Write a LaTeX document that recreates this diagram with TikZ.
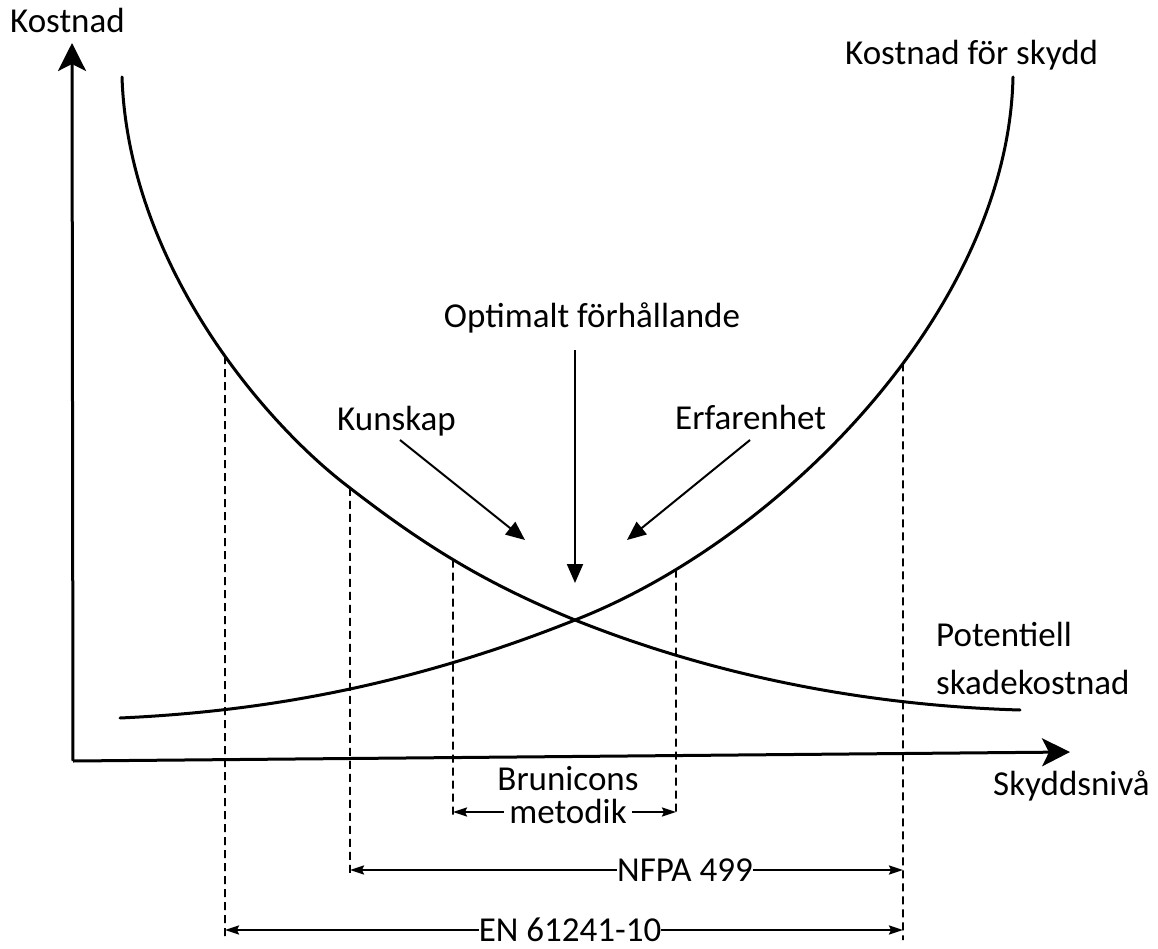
\documentclass[tikz,border=0pt]{standalone}
\usepackage{fontspec}
\setmainfont{Carlito}
\usetikzlibrary{arrows.meta,intersections}
\begin{document}
\begin{tikzpicture}[x=1pt,y=-1pt,
  lbl/.style={font=\fontsize{35}{42}\selectfont, inner sep=0pt},
  axis/.style={line width=3pt, -{Stealth[length=28pt,width=28pt,inset=7pt]}},
  curve/.style={line width=3pt, line cap=round},
  pointer/.style={line width=2pt, -{Stealth[length=19pt,width=16pt,inset=0pt]}},
  guide/.style={line width=1.7pt, dash pattern=on 8pt off 5pt},
  dimarrow/.style={line width=2.2pt, -{Stealth[length=14pt,width=9pt,inset=2pt]}}]
\useasboundingbox (0,0) rectangle (1158,949);

% axes
\coordinate (origin) at (73,761);
\coordinate (ytip) at (72,43);
\coordinate (xtip) at (1070,752);
\draw[axis] (origin) -- (ytip);
\draw[axis] (origin) -- (xtip);

% potential damage cost (falling)
\draw[curve, name path=fall] (122,77)
  .. controls (128,260) and (260,420) .. (350,488)
  .. controls (430,550) and (490,585) .. (575,620)
  .. controls (700,670) and (850,705) .. (1020,710);
% protection cost (rising)
\draw[curve, name path=rise] (120,718)
  .. controls (250,712) and (400,690) .. (575,620)
  .. controls (780,540) and (1008,310) .. (1013,77);

% vertical guide lines, starting on the curves
\path[name path=v1] (225,0) -- (225,949);
\path[name path=v2] (350,0) -- (350,949);
\path[name path=v3] (453,0) -- (453,949);
\path[name path=v4] (676,0) -- (676,949);
\path[name path=v5] (903,0) -- (903,949);
\path[name intersections={of=fall and v1, by=g1t}];
\path[name intersections={of=fall and v2, by=g2t}];
\path[name intersections={of=fall and v3, by=g3t}];
\path[name intersections={of=rise and v4, by=g4t}];
\path[name intersections={of=rise and v5, by=g5t}];
\coordinate (g1b) at (225,940);
\coordinate (g2b) at (350,876);
\coordinate (g3b) at (453,815);
\coordinate (g4b) at (676,815);
\coordinate (g5b) at (903,940);
\foreach \g in {1,...,5} \draw[guide] (g\g t) -- (g\g b);

% labels
\node[lbl, anchor=base west] (ylab) at (10,33) {Kostnad};
\node[lbl, anchor=base west] (skydd) at (845,65) {Kostnad för skydd};
\node[lbl, anchor=base] (opt) at (592,327) {Optimalt förhållande};
\node[lbl, anchor=base west] (kun) at (337,430) {Kunskap};
\node[lbl, anchor=base west] (erf) at (675,429) {Erfarenhet};
\node[lbl, anchor=base west] (pot) at (936,646) {Potentiell};
\node[lbl, anchor=base west] (ska) at (936,694) {skadekostnad};
\node[lbl, anchor=base west] (xlab) at (993,795) {Skyddsnivå};

% pointers towards the optimum
\coordinate (optstart) at (575,350);
\coordinate (optend) at (575,583);
\coordinate (kunstart) at (400,440);
\coordinate (kunend) at (525,540);
\coordinate (erfstart) at (750,440);
\coordinate (erfend) at (627,540);
\draw[pointer] (optstart) -- (optend);
\draw[pointer] (kunstart) -- (kunend);
\draw[pointer] (erfstart) -- (erfend);

% ranges of the methods
\node[lbl, anchor=base] (bru) at (568,790) {Brunicons};
\node[lbl, anchor=base] (meto) at (568,823) {metodik};
\coordinate (bl) at (453,812);
\coordinate (br) at (676,812);
\draw[dimarrow, shorten <=5pt] (meto.west |- bl) -- (bl);
\draw[dimarrow, shorten <=5pt] (meto.east |- br) -- (br);

\node[lbl, anchor=base] (nfpa) at (685,881) {NFPA 499};
\coordinate (nl) at (350,870);
\coordinate (nr) at (903,870);
\draw[dimarrow] (nfpa.west |- nl) -- (nl);
\draw[dimarrow] (nfpa.east |- nr) -- (nr);

\node[lbl, anchor=base, text depth=0pt] (en) at (570,941) {EN 61241-10};
\coordinate (el) at (225,930);
\coordinate (er) at (903,930);
\draw[dimarrow] (en.west |- el) -- (el);
\draw[dimarrow] (en.east |- er) -- (er);
\end{tikzpicture}
\end{document}
